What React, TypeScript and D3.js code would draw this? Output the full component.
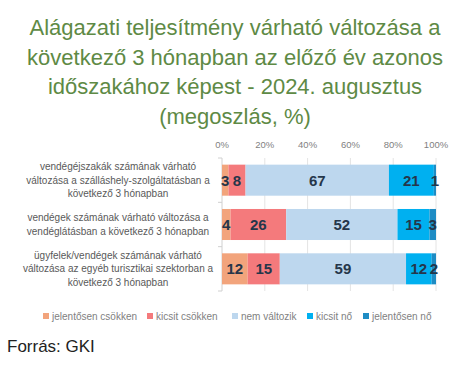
import React from 'react';
import * as d3 from 'd3';

const titleLines = [
  'Alágazati teljesítmény várható változása a',
  'következő 3 hónapban az előző év azonos',
  'időszakához képest - 2024. augusztus',
  '(megoszlás, %)',
];

const categories = ['szallas', 'vendeglatas', 'egyeb'];
const categoryLabels = [
  ['vendégéjszakák számának várható', 'változása a szálláshely-szolgáltatásban a', 'következő 3 hónapban'],
  ['vendégek számának várható változása a', 'vendéglátásban a következő 3 hónapban'],
  ['ügyfelek/vendégek számának várható', 'változása az egyéb turisztikai szektorban a', 'következő 3 hónapban'],
];

const seriesNames = ['jelentősen csökken', 'kicsit csökken', 'nem változik', 'kicsit nő', 'jelentősen nő'];
const seriesColors = ['#F2A47C', '#F47A7C', '#BDD7EE', '#00B0F0', '#1E8CC4'];

const jelentosenCsokken = [3, 4, 12];
const kicsitCsokken = [8, 26, 15];
const nemValtozik = [67, 52, 59];
const kicsitNo = [21, 15, 12];
const jelentosenNo = [1, 3, 2];

const tickValues = [0, 20, 40, 60, 80, 100];

const W = 462;
const H = 371;

export default function App() {
  const series = [jelentosenCsokken, kicsitCsokken, nemValtozik, kicsitNo, jelentosenNo];
  const rows = categories.map((c, i) => {
    const obj: Record<string, number | string> = { cat: c };
    seriesNames.forEach((s, j) => (obj[s] = series[j][i]));
    return obj;
  });
  const stacked = d3.stack<Record<string, number | string>>().keys(seriesNames)(rows as any);

  const x = d3.scaleLinear().domain([0, 100]).range([222, 436]);
  const y = d3.scaleBand().domain(categories).range([158, 291]).paddingInner(0.3).paddingOuter(0.15);

  const legendX = [43, 147, 232, 307, 363];

  return (
    <svg width={W} height={H} style={{ position: 'absolute', left: 0, top: 0, background: '#fff' }}>
      <g fontFamily="'Liberation Sans', Arial, sans-serif" fill="#5E8A45" fontSize={22} textAnchor="middle">
        {titleLines.map((t, i) => (
          <text key={i} x={235} y={35 + i * 29.5}>{t}</text>
        ))}
      </g>

      {/* gridlines */}
      <g stroke="#E4E4E4" strokeWidth={1}>
        {tickValues.slice(1).map(v => (
          <line key={v} x1={x(v)} x2={x(v)} y1={158} y2={291} />
        ))}
      </g>
      <g stroke="#D0D0D0" strokeWidth={1}>
        <line x1={x(0)} x2={x(0)} y1={158} y2={291} />
        {[158, 158 + 133 / 3, 158 + 266 / 3, 291].map((v, i) => (
          <line key={i} x1={x(0) - 4} x2={x(0)} y1={v} y2={v} />
        ))}
      </g>
      <g fontFamily="'Liberation Sans', Arial, sans-serif" fontSize={9.5} fill="#7F7F7F" textAnchor="middle">
        {tickValues.map(v => (
          <text key={v} x={x(v)} y={148}>{v}%</text>
        ))}
      </g>

      {/* bars */}
      {stacked.map((s, j) => (
        <g key={s.key} fill={seriesColors[j]}>
          {s.map((d, i) => (
            <rect key={i} x={x(d[0])} y={y(categories[i])!} width={x(d[1]) - x(d[0])} height={y.bandwidth()} />
          ))}
        </g>
      ))}
      <g fontFamily="'Liberation Sans', Arial, sans-serif" fontSize={15} fontWeight="bold" fill="#25364A" textAnchor="middle">
        {stacked.map((s, j) =>
          s.map((d, i) => (
            <text key={`${j}-${i}`} x={(x(d[0]) + x(d[1])) / 2} y={y(categories[i])! + y.bandwidth() / 2} dy="0.36em">
              {d[1] - d[0]}
            </text>
          ))
        )}
      </g>

      {/* category labels */}
      <g fontFamily="'Liberation Sans', Arial, sans-serif" fontSize={10} fill="#595959" textAnchor="middle">
        {categoryLabels.map((lines, i) => {
          const cy = y(categories[i])! + y.bandwidth() / 2;
          const lh = 13.5;
          return lines.map((l, k) => (
            <text key={`${i}-${k}`} x={118} y={cy + (k - (lines.length - 1) / 2) * lh} dy="0.35em">{l}</text>
          ));
        })}
      </g>

      {/* legend */}
      <g fontFamily="'Liberation Sans', Arial, sans-serif" fontSize={10} fill="#7F7F7F">
        {seriesNames.map((s, j) => (
          <g key={s} transform={`translate(${legendX[j]},316)`}>
            <rect x={0} y={-3} width={6} height={6} fill={seriesColors[j]} />
            <text x={9} dy="0.35em">{s}</text>
          </g>
        ))}
      </g>

      <text x={7} y={352} fontFamily="'Liberation Sans', Arial, sans-serif" fontSize={17} fill="#222">Forrás: GKI</text>
    </svg>
  );
}
